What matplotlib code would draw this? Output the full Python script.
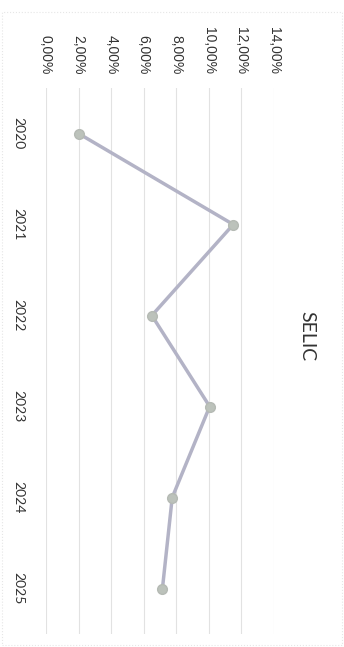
import matplotlib.pyplot as plt
from matplotlib.patches import Rectangle

years = ['2020', '2021', '2022', '2023', '2024', '2025']
selic = [2.0, 11.5, 6.5, 10.05, 7.75, 7.15]
value_ticks = [0, 2, 4, 6, 8, 10, 12, 14]
value_labels = [f"{v:.2f}%".replace('.', ',') for v in value_ticks]
title = 'SELIC'

fig = plt.figure(figsize=(3.44, 6.47), dpi=100)
W, H = 344, 647

# plot area in pixels (chart drawn turned 90 degrees clockwise)
x0, x1 = 46, 274
y_top, y_bot = 88, 634
ax = fig.add_axes([x0 / W, 1 - y_bot / H, (x1 - x0) / W, (y_bot - y_top) / H])

ax.plot(selic, years, color='#b3b3c6', lw=2.5, marker='o', ms=7,
        markerfacecolor='#bcc2bb', markeredgecolor='#b5bab4', zorder=3)

ax.set_xlim(0, 14)
ax.set_ylim(5.5, -0.5)

ax.set_xticks(value_ticks)
ax.set_xticklabels(value_labels, rotation=270, family='Liberation Sans',
                   fontsize=10, color='#333333')
ax.xaxis.tick_top()
ax.tick_params(axis='x', length=0, pad=10)
ax.tick_params(axis='y', length=0, pad=15.5)
for lab in ax.get_yticklabels():
    lab.set_rotation(270)
    lab.set_va('center')
    lab.set_family('Lato')
    lab.set_fontsize(10)
    lab.set_color('#333333')

ax.grid(axis='x', color='#e2e2e2', lw=0.8)
ax.set_axisbelow(True)
for s in ax.spines.values():
    s.set_visible(False)

fig.text(307 / W, 1 - 336 / H, title, rotation=270, ha='center', va='center',
         family='Lato', fontsize=14, color='#333333')

# faint outer chart border
fig.patches.append(Rectangle((2 / W, 2 / H), 340 / W, (H - 14) / H,
                             transform=fig.transFigure, fill=False,
                             ec='#e6e6e6', lw=0.8, ls=':'))

plt.savefig('out.png', dpi=100)
